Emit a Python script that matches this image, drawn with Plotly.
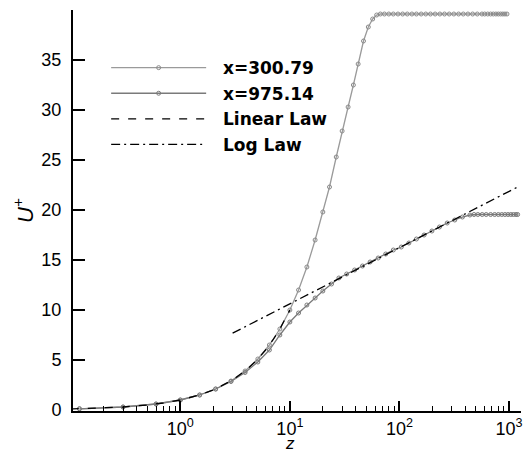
import plotly.graph_objects as go

# ---- data ----
z_a = [0.12, 0.3, 0.6, 1.0, 1.5, 2.1, 2.9, 3.9, 5.1, 6.5, 8.1, 10, 12, 14.3, 17, 20, 23, 26.5,
       30, 34, 38, 42, 47, 52, 57, 62, 67, 73, 80, 88, 97, 107, 118, 130, 143, 158, 174, 192,
       212, 234, 258, 285, 314, 347, 383, 422, 466, 514, 567, 600, 640, 680, 720, 760, 800,
       840, 880, 920, 960]
u_a = [0.12, 0.3, 0.6, 1.0, 1.5, 2.1, 2.9, 3.9, 5.1, 6.5, 8.1, 10, 12, 14.3, 17, 19.8, 22.3, 25.3,
       27.9, 30.3, 32.5, 34.6, 36.9, 38.3, 39.1, 39.5, 39.6, 39.6, 39.6, 39.6, 39.6, 39.6, 39.6,
       39.6, 39.6, 39.6, 39.6, 39.6, 39.6, 39.6, 39.6, 39.6, 39.6, 39.6, 39.6, 39.6, 39.6, 39.6,
       39.6, 39.6, 39.6, 39.6, 39.6, 39.6, 39.6, 39.6, 39.6, 39.6, 39.6]

z_b = [0.12, 0.3, 0.6, 1.0, 1.5, 2.1, 2.9, 3.9, 5.1, 6.5, 8.1, 10, 12, 14.3, 17, 20, 24, 28, 33,
       39, 46, 54, 64, 75, 88, 104, 122, 143, 168, 198, 232, 273, 320, 376, 440, 480, 520, 570,
       620, 680, 740, 800, 860, 920, 980, 1040, 1100, 1160, 1200]
u_b = [0.12, 0.3, 0.6, 1.0, 1.5, 2.1, 2.85, 3.75, 4.8, 6.0, 7.5, 8.8, 9.7, 10.5, 11.2, 11.9,
       12.6, 13.2, 13.6, 14.0, 14.4, 14.8, 15.2, 15.6, 16.0, 16.3, 16.7, 17.1, 17.5, 17.9, 18.3,
       18.7, 19.0, 19.3, 19.5, 19.55, 19.55, 19.55, 19.55, 19.55, 19.55, 19.55, 19.55, 19.55,
       19.55, 19.55, 19.55, 19.55, 19.55]

z_lin = [0.1, 0.15, 0.2, 0.3, 0.5, 0.7, 1, 1.5, 2, 3, 4, 5, 6, 7, 8, 9, 10]
u_lin = [0.1, 0.15, 0.2, 0.3, 0.5, 0.7, 1, 1.5, 2, 3, 4, 5, 6, 7, 8, 9, 10]

z_log = [3, 1200]
u_log = [7.68, 22.3]

series_names = ["x=300.79", "x=975.14", "Linear Law", "Log Law"]
x_tickvals = [1, 10, 100, 1000]
x_ticktext = ["10<sup>0</sup>", "10<sup>1</sup>", "10<sup>2</sup>", "10<sup>3</sup>"]
y_tickvals = [0, 5, 10, 15, 20, 25, 30, 35]

FONT = "Arial, Liberation Sans, sans-serif"
LFONT = "DejaVu Sans, Arial, sans-serif"
PAD = "\u00a0\u00a0"

fig = go.Figure()
fig.add_trace(go.Scatter(x=z_a, y=u_a, name=PAD + series_names[0], mode="lines+markers",
                         legendgroup="a",
                         line=dict(color="#9a9a9a", width=1.3),
                         marker=dict(symbol="circle-open", size=4, color="#8a8a8a", line=dict(width=1))))
fig.add_trace(go.Scatter(x=z_b, y=u_b, name=PAD + series_names[1], mode="lines+markers",
                         legendgroup="b",
                         line=dict(color="#7a7a7a", width=1.3),
                         marker=dict(symbol="circle-open", size=4, color="#7a7a7a", line=dict(width=1))))
fig.add_trace(go.Scatter(x=z_lin, y=u_lin, name=PAD + series_names[2], mode="lines",
                         legendgroup="c",
                         line=dict(color="black", width=1.3, dash="8px,9px")))
fig.add_trace(go.Scatter(x=z_log, y=u_log, name=PAD + series_names[3], mode="lines",
                         legendgroup="d",
                         line=dict(color="black", width=1.3, dash="9px,4px,2px,4px")))

fig.update_layout(
    width=526, height=455,
    margin=dict(l=73, r=5, t=10, b=44),
    paper_bgcolor="white", plot_bgcolor="white",
    font=dict(family=FONT, color="black", size=18),
    showlegend=True,
    legend=dict(x=0.074, y=0.9, xanchor="left", yanchor="top",
                bgcolor="rgba(0,0,0,0)", itemwidth=95, tracegroupgap=0.5,
                font=dict(family=LFONT, size=17, color="black", weight="bold")),
    annotations=[dict(text="<i>z</i>", x=1, xref="x", y=-0.1097, yref="paper",
                      yanchor="bottom", showarrow=False, font=dict(size=17, family=FONT))],
)
fig.update_xaxes(type="log", range=[-0.98, 3.11], showgrid=False, zeroline=False,
                 showline=True, linecolor="black", linewidth=2,
                 ticks="inside", ticklen=10, tickwidth=1.5, tickcolor="black",
                 tickvals=x_tickvals, ticktext=x_ticktext,
                 tickfont=dict(size=18),
                 minor=dict(ticks="inside", ticklen=5, tickwidth=1, tickcolor="black",
                            showgrid=False, dtick="D1"))
fig.update_yaxes(range=[-0.1, 40], showgrid=False, zeroline=False,
                 showline=True, linecolor="black", linewidth=2,
                 ticks="inside", ticklen=12, tickwidth=1.5, tickcolor="black",
                 tickvals=y_tickvals, tickfont=dict(size=18), ticklabelstandoff=6,
                 title=dict(text="<i>U</i><sup>+</sup>", font=dict(size=22), standoff=2))

fig.write_html("out.html")
